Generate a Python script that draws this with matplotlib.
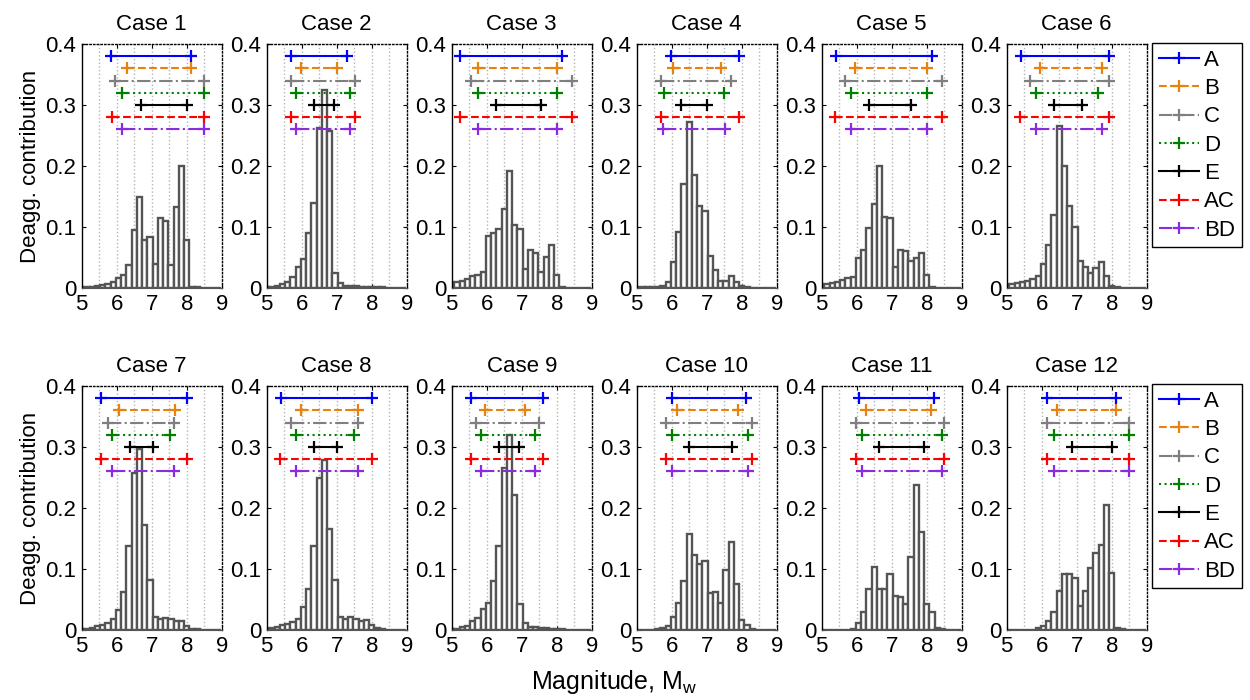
import matplotlib.pyplot as plt

plt.rcParams['font.family'] = ['Liberation Sans', 'DejaVu Sans']
plt.rcParams['mathtext.fontset'] = 'custom'
plt.rcParams['mathtext.rm'] = 'Liberation Sans'
plt.rcParams['mathtext.it'] = 'Liberation Sans'

# magnitude bin centres (bin width 0.15)
MAG_BINS = [5.0, 5.15, 5.3, 5.45, 5.6, 5.75, 5.9, 6.05, 6.2, 6.35, 6.5, 6.65, 6.8, 6.95,
            7.1, 7.25, 7.4, 7.55, 7.7, 7.85, 8.0, 8.15, 8.3, 8.45, 8.6, 8.75, 8.9]

# deaggregation contribution per bin, one list per case
CASE_1 = [0.0005, 0.001, 0.002, 0.003, 0.005, 0.007, 0.01, 0.016, 0.021, 0.038, 0.095, 0.149, 0.079, 0.084,
          0.039, 0.114, 0.109, 0.038, 0.133, 0.2, 0.078, 0.002, 0.001, 0.0005, 0, 0, 0]
CASE_2 = [0.001, 0.002, 0.004, 0.006, 0.01, 0.018, 0.035, 0.048, 0.09, 0.14, 0.262, 0.325, 0.258, 0.025,
          0.008, 0.003, 0.003, 0.003, 0.002, 0.002, 0.002, 0.001, 0.001, 0, 0, 0, 0]
CASE_3 = [0.005, 0.01, 0.012, 0.015, 0.02, 0.022, 0.027, 0.085, 0.09, 0.097, 0.13, 0.192, 0.103, 0.097,
          0.031, 0.062, 0.057, 0.027, 0.05, 0.071, 0.021, 0.002, 0, 0, 0, 0, 0]
CASE_4 = [0, 0.001, 0.001, 0.002, 0.002, 0.004, 0.01, 0.043, 0.092, 0.17, 0.272, 0.186, 0.135, 0.126,
          0.052, 0.03, 0.011, 0.012, 0.019, 0.01, 0.003, 0.001, 0, 0, 0, 0, 0]
CASE_5 = [0.004, 0.006, 0.008, 0.01, 0.013, 0.016, 0.018, 0.049, 0.062, 0.099, 0.138, 0.2, 0.117, 0.114,
          0.034, 0.062, 0.061, 0.045, 0.049, 0.058, 0.021, 0.002, 0, 0, 0, 0, 0]
CASE_6 = [0.003, 0.006, 0.008, 0.01, 0.012, 0.015, 0.02, 0.04, 0.07, 0.12, 0.265, 0.2, 0.134, 0.1,
          0.044, 0.035, 0.025, 0.033, 0.042, 0.02, 0.003, 0.001, 0, 0, 0, 0, 0]
CASE_7 = [0.001, 0.002, 0.004, 0.0065, 0.009, 0.012, 0.018, 0.032, 0.062, 0.137, 0.258, 0.296, 0.172, 0.082,
          0.022, 0.018, 0.02, 0.018, 0.015, 0.014, 0.007, 0.002, 0.001, 0, 0, 0, 0]
CASE_8 = [0.001, 0.003, 0.005, 0.008, 0.01, 0.013, 0.018, 0.038, 0.068, 0.138, 0.25, 0.278, 0.165, 0.082,
          0.022, 0.018, 0.021, 0.018, 0.015, 0.016, 0.008, 0.003, 0.001, 0, 0, 0, 0]
CASE_9 = [0.001, 0.002, 0.005, 0.007, 0.015, 0.019, 0.034, 0.045, 0.08, 0.138, 0.266, 0.319, 0.221, 0.042,
          0.012, 0.005, 0.005, 0.004, 0.003, 0.002, 0.002, 0.001, 0, 0, 0, 0, 0]
CASE_10 = [0, 0, 0, 0, 0.001, 0.003, 0.007, 0.022, 0.045, 0.081, 0.158, 0.123, 0.109, 0.113,
           0.061, 0.063, 0.045, 0.098, 0.144, 0.075, 0.016, 0.008, 0.002, 0, 0, 0, 0]
CASE_11 = [0, 0, 0, 0, 0, 0, 0.002, 0.011, 0.03, 0.068, 0.103, 0.067, 0.068, 0.091,
           0.056, 0.054, 0.042, 0.119, 0.238, 0.161, 0.043, 0.029, 0.004, 0.001, 0, 0, 0]
CASE_12 = [0, 0, 0, 0, 0, 0, 0.003, 0.007, 0.014, 0.03, 0.064, 0.091, 0.092, 0.085,
           0.04, 0.064, 0.101, 0.126, 0.139, 0.205, 0.093, 0.004, 0.001, 0, 0, 0, 0]
CASES = [CASE_1, CASE_2, CASE_3, CASE_4, CASE_5, CASE_6,
         CASE_7, CASE_8, CASE_9, CASE_10, CASE_11, CASE_12]

# magnitude ranges (min, max) for each method, per case
A_RANGE = [(5.84, 8.12), (5.69, 7.30), (5.24, 8.14), (5.98, 7.92), (5.40, 8.14), (5.40, 7.92),
           (5.54, 8.02), (5.40, 8.00), (5.54, 7.62), (6.00, 8.11), (6.07, 8.21), (6.14, 8.11)]
B_RANGE = [(6.29, 8.12), (5.98, 7.00), (5.76, 8.00), (6.03, 7.40), (5.96, 8.00), (5.96, 7.71),
           (6.07, 7.67), (5.98, 7.60), (5.96, 7.10), (6.14, 7.90), (6.27, 8.11), (6.45, 8.11)]
C_RANGE = [(5.95, 8.50), (5.69, 7.52), (5.54, 8.43), (5.68, 7.69), (5.67, 8.43), (5.67, 7.92),
           (5.76, 7.64), (5.68, 7.60), (5.69, 7.48), (5.84, 8.29), (5.98, 8.50), (6.14, 8.50)]
D_RANGE = [(6.16, 8.50), (5.83, 7.38), (5.76, 8.00), (5.78, 7.50), (5.84, 8.00), (5.84, 7.62),
           (5.88, 7.52), (5.84, 7.50), (5.84, 7.38), (6.00, 8.19), (6.14, 8.43), (6.36, 8.50)]
E_RANGE = [(6.70, 8.00), (6.35, 6.92), (6.27, 7.55), (6.27, 7.00), (6.36, 7.55), (6.35, 7.14),
           (6.38, 7.03), (6.35, 7.00), (6.35, 6.92), (6.48, 7.71), (6.65, 7.92), (6.86, 8.00)]
AC_RANGE = [(5.86, 8.50), (5.69, 7.52), (5.24, 8.45), (5.68, 7.92), (5.38, 8.45), (5.38, 7.92),
            (5.54, 8.02), (5.38, 8.00), (5.54, 7.62), (5.84, 8.29), (5.98, 8.50), (6.14, 8.50)]
BD_RANGE = [(6.16, 8.50), (5.83, 7.38), (5.76, 8.00), (5.76, 7.52), (5.84, 8.00), (5.84, 7.71),
            (5.86, 7.64), (5.84, 7.60), (5.84, 7.38), (6.00, 8.19), (6.14, 8.43), (6.36, 8.50)]

METHODS = ['A', 'B', 'C', 'D', 'E', 'AC', 'BD']
RANGES = [A_RANGE, B_RANGE, C_RANGE, D_RANGE, E_RANGE, AC_RANGE, BD_RANGE]
LEVELS = [0.38, 0.36, 0.34, 0.32, 0.30, 0.28, 0.26]
COLORS = ['#0000ff', '#e8820c', '#7f7f7f', '#008000', '#000000', '#ff0000', '#8a2be2']
STYLES = ['-', '--', '-.', ':', '-', '--', '-.']

fig = plt.figure(figsize=(12.5, 7), dpi=100)

W, H = 1250.0, 700.0
for i, heights in enumerate(CASES):
    row, col = divmod(i, 6)
    left = (81.7 + 185 * col) / W
    bottom = 0.5886 if row == 0 else 0.1
    ax = fig.add_axes([left, bottom, 140 / W, 244 / H])

    for gx in [5.5, 6, 6.5, 7, 7.5, 8, 8.5]:
        ax.axvline(gx, color='#b5b5b5', ls=':', lw=1, zorder=0)

    ax.bar(MAG_BINS, heights, width=0.15, color='white', edgecolor='#555555',
           linewidth=1.7, zorder=2)

    for name, rng, lev, c, ls in zip(METHODS, RANGES, LEVELS, COLORS, STYLES):
        lo, hi = rng[i]
        ax.plot([lo, hi], [lev, lev], color=c, ls=ls, lw=1.5, marker='+',
                ms=8, mew=1.6, zorder=3, label=name)

    ax.set_xlim(5, 9)
    ax.set_ylim(0, 0.4)
    ax.set_xticks([5, 6, 7, 8, 9])
    ax.set_yticks([0, 0.1, 0.2, 0.3, 0.4])
    ax.set_yticklabels(['0', '0.1', '0.2', '0.3', '0.4'])
    ax.tick_params(direction='in', length=3, top=True, right=True, labelsize=16, pad=4)
    for s in ['top', 'right']:
        ax.spines[s].set_linestyle(':')
        ax.spines[s].set_linewidth(1)
    ax.spines['left'].set_linewidth(1)
    ax.spines['bottom'].set_color('#555555')
    ax.set_title('Case %d' % (i + 1), fontsize=16, pad=10)
    if col == 0:
        ax.set_ylabel('Deagg. contribution', fontsize=16, labelpad=3)
    if col == 5:
        leg_top = 1 - (43 if row == 0 else 384) / H
        fig.legend(*ax.get_legend_handles_labels(), loc='upper left',
                   bbox_to_anchor=(1152 / W, leg_top), borderaxespad=0,
                   fontsize=16, numpoints=1, handlelength=1.8, labelspacing=0.33,
                   fancybox=False, framealpha=1, edgecolor='black',
                   borderpad=0.3, handletextpad=0.25)

fig.text(614 / W, 1 - 689 / H, 'Magnitude, M$_{\\mathrm{w}}$', ha='center',
         va='baseline', fontsize=18)

fig.savefig('out.png', dpi=100)
